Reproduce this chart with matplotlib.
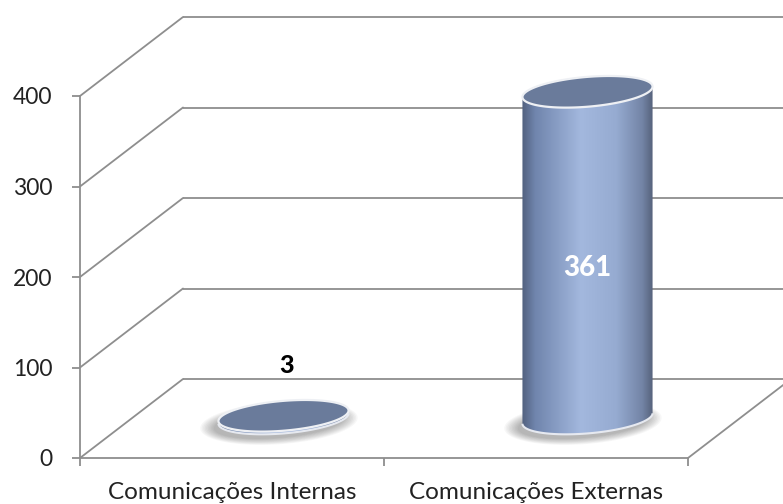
import numpy as np
import matplotlib
matplotlib.use("Agg")
import matplotlib.pyplot as plt
from matplotlib.patches import Polygon, ConnectionPatch
from matplotlib.colors import LinearSegmentedColormap

# dados
categorias = ["Comunicações Internas", "Comunicações Externas"]
valores = [3, 361]
yticks = [0, 100, 200, 300, 400]

plt.rcParams["font.family"] = ["Lato", "DejaVu Sans"]

W, H = 783, 504
fig = plt.figure(figsize=(W / 100, H / 100), dpi=100)
fig.patch.set_facecolor("white")

# posição do plano frontal (em px) e profundidade 3D
x0, y0, pw, ph = 80, 46, 608, 362
dx, dy = 103, 79
ymax = 400
esc = ph / ymax  # px por unidade

def add_ax(sx, sy, ylo=0):
    extra = -ylo * esc
    a = fig.add_axes([(x0 + sx) / W, (y0 + sy - extra) / H, pw / W, (ph + extra) / H])
    a.set_xlim(0, len(categorias))
    a.set_ylim(ylo, ymax)
    a.patch.set_alpha(0)
    return a

grid_col = "#8e8e8e"

# parede do fundo
ax_back = add_ax(dx, dy)
ax_back.axis("off")
for v in yticks:
    ax_back.plot([0, len(categorias)], [v, v], color=grid_col, lw=1.3,
                 clip_on=False, solid_capstyle="butt")

# plano frontal (eixos)
ax = add_ax(0, 0)
for s in ["top", "right"]:
    ax.spines[s].set_visible(False)
for s in ["left", "bottom"]:
    ax.spines[s].set_color(grid_col)
    ax.spines[s].set_linewidth(1.3)
ax.set_yticks(yticks)
ax.set_xticks(np.arange(len(categorias) + 1))
ax.set_xticklabels([])
ax.set_xticks(np.arange(len(categorias)) + 0.5, minor=True)
ax.set_xticklabels(categorias, minor=True)
ax.tick_params(axis="x", which="minor", length=0, pad=17, labelsize=17.5,
               labelcolor="#222222")
ax.tick_params(axis="x", which="major", length=6, color=grid_col, width=1.3)
ax.tick_params(axis="y", length=6, color=grid_col, width=1.3, pad=14,
               labelsize=16.5, labelcolor="#222222")

# diagonais da parede lateral e aresta direita do chão
for v in yticks:
    fig.add_artist(ConnectionPatch(xyA=(0, v), coordsA=ax.transData,
                                   xyB=(0, v), coordsB=ax_back.transData,
                                   color=grid_col, lw=1.3))
fig.add_artist(ConnectionPatch(xyA=(len(categorias), 0), coordsA=ax.transData,
                               xyB=(len(categorias), 0), coordsB=ax_back.transData,
                               color=grid_col, lw=1.3))

# cilindros a meia profundidade
ax_mid = add_ax(dx / 2, dy / 2, ylo=-60)
ax_mid.axis("off")

cmap = LinearSegmentedColormap.from_list("cil", [
    (0.0, "#52617f"), (0.1, "#7085ad"), (0.45, "#a3b8de"),
    (0.72, "#96abd1"), (0.92, "#7384a6"), (1.0, "#56627b")])

a = 0.214     # meia largura (unidades x)
b = 16.5      # meia altura da elipse (unidades y)
k = 27.0      # inclinação da elipse
t = np.linspace(0, 2 * np.pi, 200)

def elipse(cx, cy, aa, bb, tt):
    xs = cx + aa * np.cos(tt)
    ys = cy + bb * np.sin(tt) + k * a * np.cos(tt)
    return np.column_stack([xs, ys])

for i, v in enumerate(valores):
    cx = i + 0.5
    # sombra
    for j in range(10):
        f = j / 9
        sh = elipse(cx - 0.015, -5, a + 0.045 * (1 - f), b + 7 * (1 - f), t)
        ax_mid.add_patch(Polygon(sh, closed=True, facecolor="#000000",
                                 edgecolor="none", alpha=0.03, zorder=1))
    # corpo
    inf = elipse(cx, 0, a, b, np.linspace(np.pi, 2 * np.pi, 100))
    sup = elipse(cx, v, a, b, np.linspace(0, np.pi, 100))
    corpo = Polygon(np.vstack([inf, sup]), closed=True, facecolor="none",
                    edgecolor="none", zorder=2)
    ax_mid.add_patch(corpo)
    ax_mid.add_patch(Polygon(inf, closed=False, fill=False, edgecolor="#e6e9f0",
                             lw=1.5, zorder=3))
    grad = np.linspace(0, 1, 256)[np.newaxis, :]
    img = ax_mid.imshow(grad, extent=(cx - a, cx + a, -b - k, v + b + k),
                        aspect="auto", cmap=cmap, zorder=2, interpolation="bilinear")
    img.set_clip_path(corpo)
    # topo
    topo = elipse(cx, v, a, b, t)
    ax_mid.add_patch(Polygon(topo, closed=True, facecolor="#6a7b9b",
                             edgecolor="#eef0f4", lw=1.6, zorder=4))

ax_mid.set_xlim(0, len(categorias))
ax_mid.set_ylim(-60, ymax)

# rótulos de valor
ax_mid.annotate(str(valores[0]), xy=(0.5, valores[0]), xytext=(2, 36),
                textcoords="offset points", ha="center", va="center",
                fontsize=18, fontweight="black", color="black", zorder=5)
ax_mid.annotate(str(valores[1]), xy=(1.5, valores[1] / 2), xytext=(0, -9),
                textcoords="offset points", ha="center", va="center",
                fontsize=20, fontweight="black", color="white", zorder=5)

fig.savefig("out.png", dpi=100)
